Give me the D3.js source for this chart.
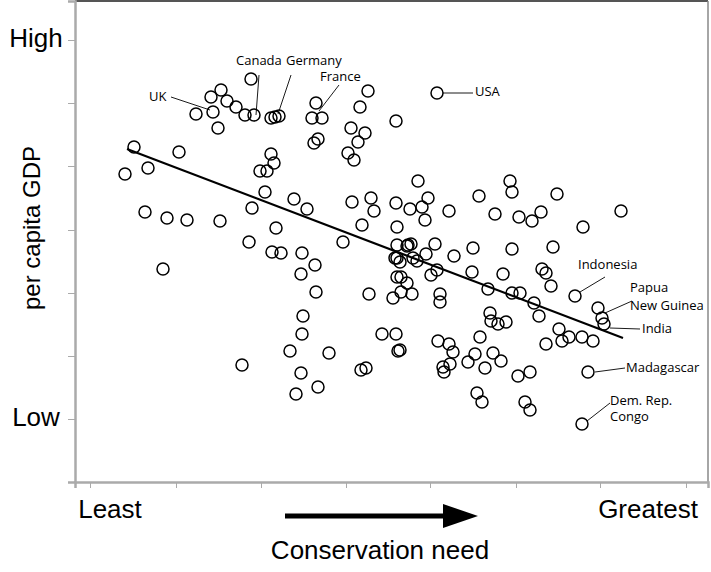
<!DOCTYPE html><html><head><meta charset="utf-8"><script src="https://cdn.jsdelivr.net/npm/d3@7"></script>
<style>body{margin:0;background:#fff}svg{font-family:"Open Sans",Arial,sans-serif}</style></head><body><svg id="c" width="711" height="572"></svg>
<script>
// [conservation need, per capita GDP] in arbitrary chart units (need 0..633, GDP 0..481)
const points=[
[176,403],[146,392],[136,385],[152,381],[161,375],[121,368],[138,370],[170,367],[179,367],[143,354],
[196,364],[200,365],[204,366],[241,379],[237,364],[247,364],[293,391],[285,375],[276,354],[290,349],
[283,340],[239,339],[243,343],[273,329],[279,322],[321,361],[59,335],[104,330],[73,314],[50,308],
[196,328],[199,319],[185,311],[192,311],[190,290],[219,283],[232,273],[177,274],[277,280],[296,284],
[299,271],[321,279],[70,270],[92,264],[112,262],[145,261],[201,254],[287,257],[322,255],[174,240],
[268,240],[322,237],[362,389],[343,301],[353,284],[335,273],[347,275],[374,271],[350,262],[404,286],
[435,301],[437,290],[482,288],[420,268],[444,265],[457,261],[466,270],[508,255],[546,271],[360,238],
[333,237],[398,234],[437,233],[478,235],[197,230],[206,229],[227,229],[240,217],[226,208],[88,213],
[241,190],[294,188],[318,184],[322,205],[322,224],[228,166],[227,148],[215,131],[254,129],[307,148],
[321,148],[323,131],[167,117],[226,109],[286,112],[291,114],[243,95],[221,88],[332,236],[336,238],
[320,224],[325,220],[338,224],[342,221],[351,228],[379,226],[362,212],[356,207],[397,210],[428,208],
[467,213],[471,209],[476,196],[413,193],[437,189],[445,189],[459,179],[464,166],[500,186],[326,205],
[332,199],[326,190],[337,188],[365,188],[365,180],[325,132],[415,169],[416,161],[423,158],[431,160],
[405,145],[363,141],[374,138],[378,130],[400,128],[393,120],[418,129],[426,121],[375,118],[368,115],
[369,110],[410,114],[443,106],[455,110],[471,138],[484,153],[487,141],[494,145],[507,145],[518,141],
[523,174],[527,164],[529,158],[513,110],[402,89],[407,80],[450,80],[455,72],[507,58]];
const xTicks=[15,101,186,271,355,441,525,611];
const yTicks=[63,126,189,252,316,379,442];
const trend=[[52,333],[548,144]];
const labels=[
 {t:"UK",x:74,y:384,lx:96,ly:385,px:135,py:372},
 {t:"Canada",x:161,y:420,lx:184,ly:407,px:181,py:367},
 {t:"Germany",x:211,y:420,lx:216,ly:407,px:203,py:368},
 {t:"France",x:245,y:404,lx:264,ly:397,px:244,py:371},
 {t:"USA",x:400,y:389,lx:398,ly:389,px:368,py:389},
 {t:"Indonesia",x:503,y:216,lx:530,ly:205,px:505,py:190},
 {t:"Papua",x:555,y:193,lx:557,ly:181,px:530,py:169},
 {t:"New Guinea",x:555,y:175},
 {t:"India",x:567,y:152,lx:565,ly:153,px:535,py:154},
 {t:"Madagascar",x:551,y:113,lx:550,ly:114,px:520,py:110},
 {t:"Dem. Rep.",x:535,y:80,lx:535,ly:79,px:512,py:61},
 {t:"Congo",x:535,y:64}];
const svg=d3.select("#c");
const L=75,R=708,T=1,B=482;
const x=d3.scaleLinear().domain([0,633]).range([L,R]);
const y=d3.scaleLinear().domain([0,481]).range([B,T]);
svg.append("line").attr("x1",L).attr("x2",R).attr("y1",T).attr("y2",T).attr("stroke","#555").attr("stroke-width",2);
svg.append("line").attr("x1",R).attr("x2",R).attr("y1",T).attr("y2",B).attr("stroke","#888").attr("stroke-width",1.5);
const ya=svg.append("g").attr("transform",`translate(${L},0)`).call(d3.axisLeft(y).tickValues(yTicks).tickSize(7).tickFormat(""));
const xa=svg.append("g").attr("transform",`translate(0,${B})`).call(d3.axisBottom(x).tickValues(xTicks).tickSize(6).tickFormat(""));
[ya,xa].forEach(g=>{g.select(".domain").attr("stroke","#aaa").attr("stroke-width",2.5);g.selectAll(".tick line").attr("stroke","#aaa")});
svg.append("g").selectAll("circle").data(points).join("circle")
 .attr("cx",d=>x(d[0])).attr("cy",d=>y(d[1])).attr("r",6).attr("fill","none").attr("stroke","#000").attr("stroke-width",1.5);
svg.append("line").attr("x1",x(trend[0][0])).attr("y1",y(trend[0][1])).attr("x2",x(trend[1][0])).attr("y2",y(trend[1][1])).attr("stroke","#000").attr("stroke-width",2.2);
labels.forEach(l=>{
 svg.append("text").attr("x",x(l.x)).attr("y",y(l.y)).attr("font-size",13).attr("dominant-baseline","middle").text(l.t);
 if(l.lx!==undefined)svg.append("line").attr("x1",x(l.lx)).attr("y1",y(l.ly)).attr("x2",x(l.px)).attr("y2",y(l.py)).attr("stroke","#000").attr("stroke-width",0.9);
});
const big=(t,xx,yy,fs,anchor)=>svg.append("text").attr("x",xx).attr("y",yy).attr("font-size",fs).attr("text-anchor",anchor||"middle").attr("dominant-baseline","middle").attr("font-family","Liberation Sans, Arial, sans-serif").text(t);
big("High",36,40,26);big("Low",36,419,26);
big("per capita GDP",0,0,24).attr("transform","translate(34,228) rotate(-90)");
big("Least",110,511,26);big("Greatest",648,511,26);
big("Conservation need",380,552,26);
svg.append("line").attr("x1",285).attr("x2",445).attr("y1",516).attr("y2",516).attr("stroke","#000").attr("stroke-width",5);
svg.append("path").attr("d","M443,504 L478,516 L443,528 Z").attr("fill","#000");
</script></body></html>
